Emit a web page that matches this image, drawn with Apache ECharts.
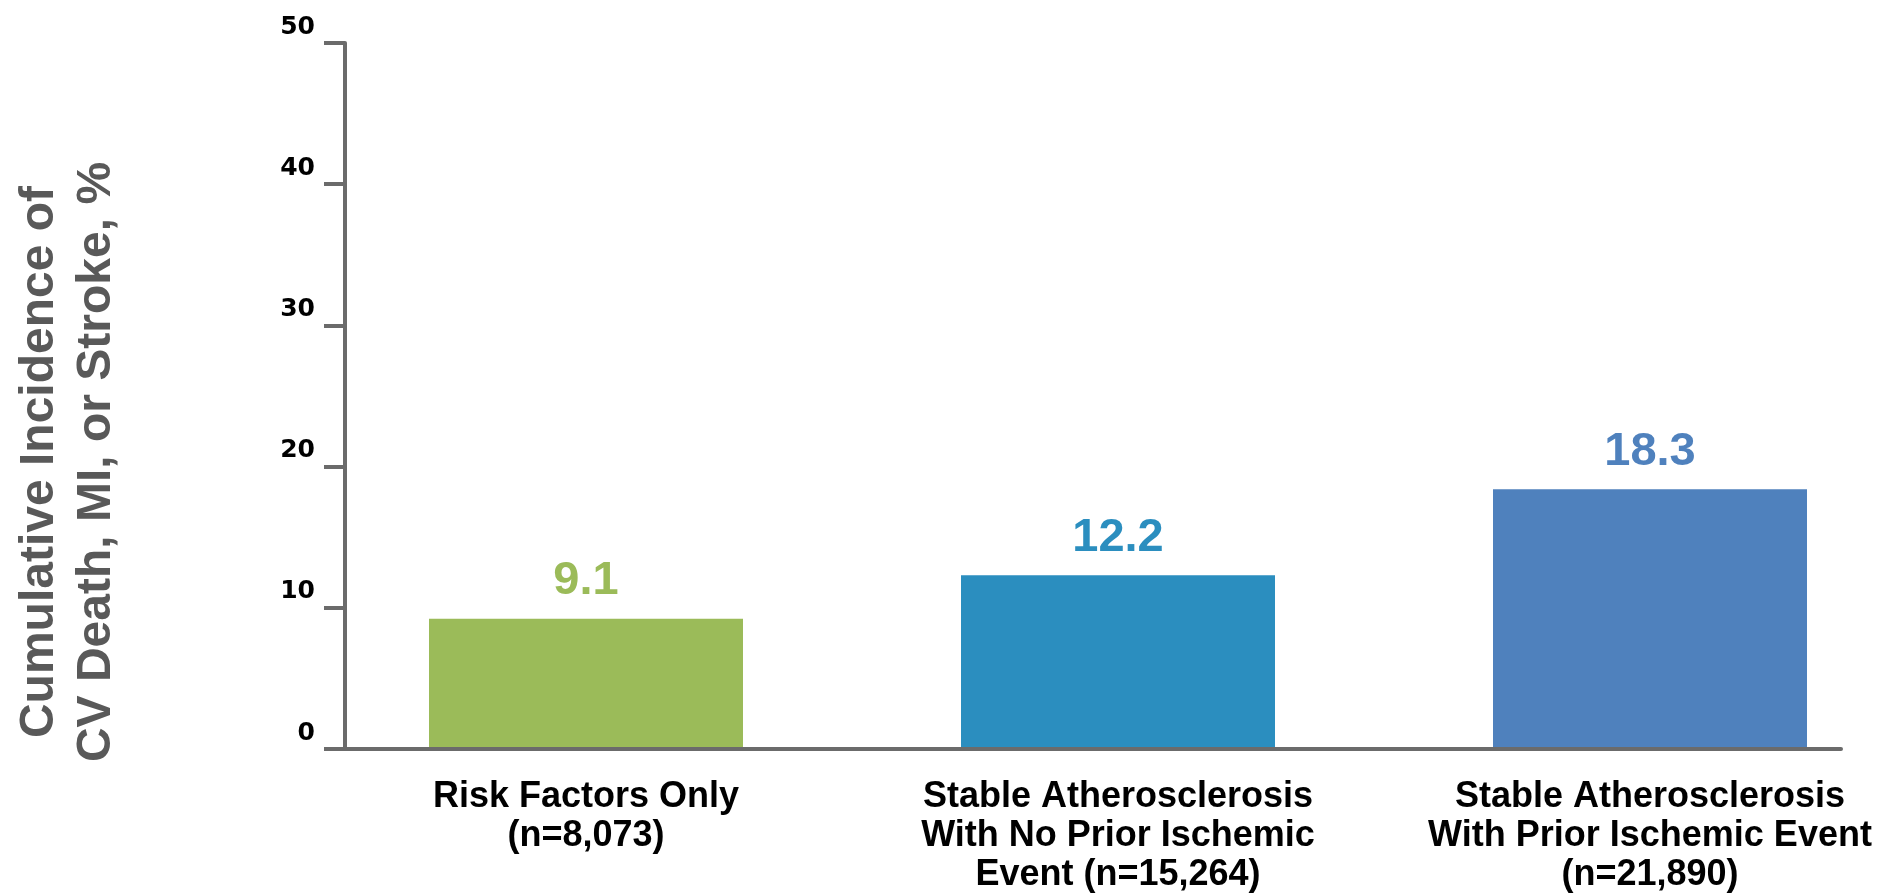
<!DOCTYPE html>
<html>
<head>
<meta charset="utf-8">
<script src="https://cdn.jsdelivr.net/npm/echarts@6/dist/echarts.min.js"></script>
<style>
  html, body { margin: 0; padding: 0; background: #ffffff; }
  #chart { width: 1891px; height: 895px; }
</style>
</head>
<body>
<div id="chart"></div>
<script>
// Cumulative incidence of CV death, MI or stroke by patient group
const categories = [
  'Risk Factors Only\n(n=8,073)',
  'Stable Atherosclerosis\nWith No Prior Ischemic\nEvent (n=15,264)',
  'Stable Atherosclerosis\nWith Prior Ischemic Event\n(n=21,890)'
];
const incidence = [9.1, 12.2, 18.3];
const barColors = ['#9BBB59', '#2B8EBF', '#4F81BD'];
const yAxisMin = 0;
const yAxisMax = 50;
const yAxisStep = 10;
const yTitle = 'Cumulative Incidence of\nCV Death, MI, or Stroke, %';

const axisGray = '#6b6b6b';

const chart = echarts.init(document.getElementById('chart'), null, { renderer: 'canvas' });

chart.setOption({
  animation: false,
  backgroundColor: '#ffffff',
  grid: [
    // frame: the visible axes
    { left: 345, width: 1496, top: 43, bottom: 146 },
    // bars and category labels: first and last category sit on the grid edges
    { left: 586, width: 1064, top: 43, bottom: 146 }
  ],
  xAxis: [
    {
      gridIndex: 0,
      type: 'category',
      data: categories,
      axisLine: { show: true, lineStyle: { color: axisGray, width: 4 } },
      axisTick: { show: false },
      axisLabel: { show: false },
      splitLine: { show: false }
    },
    {
      gridIndex: 1,
      type: 'category',
      data: categories,
      boundaryGap: false,
      axisLine: { show: false },
      axisTick: { show: false },
      splitLine: { show: false },
      axisLabel: {
        interval: 0,
        margin: 31,
        color: '#000000',
        fontFamily: '"Liberation Sans", Arial, sans-serif',
        fontWeight: 'bold',
        fontSize: 36,
        lineHeight: 39
      }
    }
  ],
  yAxis: [
    {
      gridIndex: 0,
      type: 'value',
      min: yAxisMin,
      max: yAxisMax,
      interval: yAxisStep,
      axisLine: { show: true, lineStyle: { color: axisGray, width: 4 } },
      axisTick: { show: true, length: 21, lineStyle: { color: axisGray, width: 4 } },
      splitLine: { show: false },
      axisLabel: {
        margin: 30,
        color: '#000000',
        fontFamily: '"DejaVu Sans", sans-serif',
        fontWeight: 'bold',
        fontSize: 25,
        verticalAlign: 'bottom',
        lineHeight: 32
      }
    },
    {
      gridIndex: 1,
      type: 'value',
      min: yAxisMin,
      max: yAxisMax,
      interval: yAxisStep,
      show: false
    }
  ],
  series: [
    {
      type: 'bar',
      xAxisIndex: 1,
      yAxisIndex: 1,
      barWidth: 314,
      data: incidence.map((v, i) => ({
        value: v,
        itemStyle: { color: barColors[i] },
        label: { color: barColors[i] }
      })),
      label: {
        show: true,
        position: 'top',
        distance: 14,
        fontFamily: '"Liberation Sans", Arial, sans-serif',
        fontWeight: 'bold',
        fontSize: 47,
        formatter: p => p.value.toFixed(1)
      }
    }
  ],
  graphic: [
    {
      type: 'text',
      x: 68,
      y: 462,
      rotation: Math.PI / 2,
      style: {
        text: yTitle,
        fill: '#595959',
        fontFamily: '"Liberation Sans", Arial, sans-serif',
        fontWeight: 'bold',
        fontSize: 48,
        lineHeight: 57,
        align: 'center',
        verticalAlign: 'middle'
      }
    }
  ]
});
</script>
</body>
</html>
